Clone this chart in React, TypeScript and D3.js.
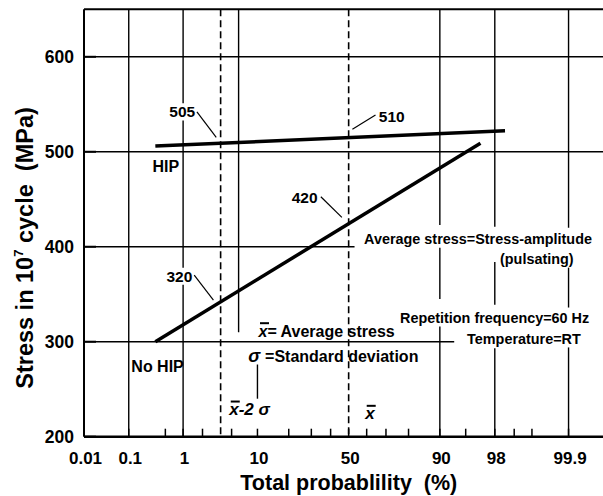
import React from 'react';
import * as d3 from 'd3';

// ---------- data ----------
const majorP = [0.01, 0.1, 1, 10, 50, 90, 98, 99.9];
const majorLabels = ['0.01', '0.1', '1', '10', '50', '90', '98', '99.9'];
const minorP = [0.5, 2, 5, 20, 30, 40, 60, 70, 80, 95, 99, 99.5];
const stressTicks = [200, 300, 400, 500, 600];

type Pt = { p: number; s: number };
const hipLine: Pt[] = [
  { p: 0.33, s: 506 },
  { p: 98.6, s: 522 },
];
const noHipLine: Pt[] = [
  { p: 0.33, s: 300 },
  { p: 96.8, s: 509 },
];
const lowerLimitP = 3.6; // x̄ - 2σ
const meanP = 50; // x̄

// vertical rules (p, stress spans) – broken around the annotations
const verticalRules: { p: number; spans: [number, number][] }[] = [
  { p: 0.1, spans: [[200, 650]] },
  { p: 1, spans: [[551, 650], [378, 533], [200, 360]] },
  { p: 6.1, spans: [[310, 650]] },
  { p: 10, spans: [[240, 276]] },
  { p: 90, spans: [[423, 650], [345, 399], [200, 316]] },
  { p: 98, spans: [[421, 650], [339, 384], [200, 293]] },
  { p: 99.9, spans: [[420, 650], [336, 378], [200, 294]] },
];
const horizontalRules = [
  { s: 300, to: 93.1 },
  { s: 400, to: 53.3 },
  { s: 500, to: 99.99 },
  { s: 600, to: 99.99 },
];
const pointers: { from: Pt; to: Pt }[] = [
  { from: { p: 1.65, s: 542.1 }, to: { p: 3.14, s: 515.2 } },
  { from: { p: 52.1, s: 523.6 }, to: { p: 64.7, s: 538.6 } },
  { from: { p: 34.8, s: 452.6 }, to: { p: 46.2, s: 430.9 } },
  { from: { p: 1.5, s: 370.2 }, to: { p: 2.87, s: 343.9 } },
];
const valueLabels = [
  { text: '505', p: 1.55, s: 537.1, anchor: 'end' },
  { text: '510', p: 66.4, s: 531.6, anchor: 'start' },
  { text: '420', p: 33.1, s: 445.7, anchor: 'end' },
  { text: '320', p: 1.4, s: 363.2, anchor: 'end' },
];
const conditionLabels = [
  { text: 'Average stress=Stress-amplitude', p: 58.6, s: 402.5 },
  { text: '(pulsating)', p: 98.33, s: 381.8 },
  { text: 'Repetition frequency=60 Hz', p: 76.5, s: 320 },
  { text: 'Temperature=RT', p: 95.2, s: 298.1 },
];

// ---------- scales ----------
function probit(p: number): number {
  const a = [-3.969683028665376e1, 2.209460984245205e2, -2.759285104469687e2, 1.38357751867269e2, -3.066479806614716e1, 2.506628277459239];
  const b = [-5.447609879822406e1, 1.615858368580409e2, -1.556989798598866e2, 6.680131188771972e1, -1.328068155288572e1];
  const c = [-7.784894002430293e-3, -3.223964580411365e-1, -2.400758277161838, -2.549671348529114, 4.374664141464968, 2.938163982698783];
  const d = [7.784695709041462e-3, 3.224671290700398e-1, 2.445134137142996, 3.754408661907416];
  const plow = 0.02425;
  if (p < plow) {
    const q = Math.sqrt(-2 * Math.log(p));
    return (((((c[0] * q + c[1]) * q + c[2]) * q + c[3]) * q + c[4]) * q + c[5]) / ((((d[0] * q + d[1]) * q + d[2]) * q + d[3]) * q + 1);
  }
  if (p <= 1 - plow) {
    const q = p - 0.5;
    const r = q * q;
    return ((((((a[0] * r + a[1]) * r + a[2]) * r + a[3]) * r + a[4]) * r + a[5]) * q) / (((((b[0] * r + b[1]) * r + b[2]) * r + b[3]) * r + b[4]) * r + 1);
  }
  const q = Math.sqrt(-2 * Math.log(1 - p));
  return -(((((c[0] * q + c[1]) * q + c[2]) * q + c[3]) * q + c[4]) * q + c[5]) / ((((d[0] * q + d[1]) * q + d[2]) * q + d[3]) * q + 1);
}

const W = 603;
const H = 496;
const M = { left: 84, right: 613.3, top: 9.3, bottom: 436.7 };
const zScale = d3.scaleLinear().domain([probit(0.0001), probit(0.9999)]).range([M.left, M.right]);
const x = (p: number) => zScale(probit(p / 100));
const y = d3.scaleLinear().domain([200, 650]).range([M.bottom, M.top]);
const line = d3
  .line<Pt>()
  .x((d) => x(d.p))
  .y((d) => y(d.s));

const FONT = "'Liberation Sans', Arial, Helvetica, sans-serif";

const Bar = ({ x0, yb, w = 9 }: { x0: number; yb: number; w?: number }) => (
  <line x1={x0 + 1.5} x2={x0 + 1.5 + w} y1={yb - 13.5} y2={yb - 13.5} stroke="#000" strokeWidth={2} />
);

export default function App() {
  const xLow = x(lowerLimitP);
  const xMean = x(meanP);
  const avgX = x(10.26), avgY = y(305.3);
  const sigX = x(7.9), sigY = y(278.9);
  const x2sX = x(4.67), x2sY = y(222.8);
  const xmX = x(59.2), xmY = y(218.3);
  return (
    <div style={{ position: 'absolute', left: 0, top: 0, width: W, height: H, background: '#fff' }}>
      <svg width={W} height={H} style={{ display: 'block', fontFamily: FONT }}>
        <rect width={W} height={H} fill="#fff" />
        {/* horizontal rules */}
        {horizontalRules.map((h) => (
          <line key={h.s} x1={M.left} x2={x(h.to)} y1={y(h.s)} y2={y(h.s)} stroke="#000" strokeWidth={1.4} />
        ))}
        {/* vertical rules */}
        {verticalRules.map((v) =>
          v.spans.map(([s0, s1], i) => (
            <line key={v.p + '-' + i} x1={x(v.p)} x2={x(v.p)} y1={y(s0)} y2={y(s1)} stroke="#000" strokeWidth={1.4} />
          ))
        )}
        {/* dashed lines */}
        <line x1={xLow} x2={xLow} y1={M.top} y2={M.bottom} stroke="#000" strokeWidth={1.6} strokeDasharray="7,4" />
        <line x1={xMean} x2={xMean} y1={M.top} y2={M.bottom} stroke="#000" strokeWidth={1.6} strokeDasharray="7,4" />
        {/* frame */}
        <line x1={M.left} x2={M.right} y1={M.top} y2={M.top} stroke="#000" strokeWidth={2} />
        <line x1={M.left} x2={M.right} y1={M.bottom} y2={M.bottom} stroke="#000" strokeWidth={2.5} />
        <line x1={M.left} x2={M.left} y1={M.top} y2={M.bottom} stroke="#000" strokeWidth={2} />
        {/* y ticks */}
        {stressTicks.map((s) => (
          <g key={s}>
            <line x1={M.left} x2={M.left + 12} y1={y(s)} y2={y(s)} stroke="#000" strokeWidth={2} />
            <text x={74} y={y(s) + 6.3} textAnchor="end" fontSize={17.5} fontWeight="bold">
              {s}
            </text>
          </g>
        ))}
        {/* x ticks */}
        {[...majorP.slice(1), ...minorP].map((p) => (
          <line key={'t' + p} x1={x(p)} x2={x(p)} y1={M.bottom} y2={M.bottom - 8} stroke="#000" strokeWidth={1.5} />
        ))}
        {majorP.map((p, i) => (
          <text key={'l' + p} x={x(p) + 1.5} y={464} textAnchor="middle" fontSize={17} fontWeight="bold">
            {majorLabels[i]}
          </text>
        ))}
        {/* data lines */}
        <path d={line(hipLine) || ''} fill="none" stroke="#000" strokeWidth={3.5} />
        <path d={line(noHipLine) || ''} fill="none" stroke="#000" strokeWidth={3.5} />
        {/* pointers */}
        {pointers.map((pt, i) => (
          <line key={'p' + i} x1={x(pt.from.p)} y1={y(pt.from.s)} x2={x(pt.to.p)} y2={y(pt.to.s)} stroke="#000" strokeWidth={1.2} />
        ))}
        {valueLabels.map((v) => (
          <text key={v.text} x={x(v.p)} y={y(v.s)} textAnchor={v.anchor as any} fontSize={15.5} fontWeight="bold">
            {v.text}
          </text>
        ))}
        <text x={x(0.293)} y={y(479.2)} fontSize={16} fontWeight="bold">HIP</text>
        <text x={x(0.113)} y={y(268.4)} fontSize={16} fontWeight="bold">No HIP</text>
        {/* legend texts */}
        <text x={avgX} y={avgY} fontSize={16} fontWeight="bold" style={{ whiteSpace: 'pre' }}>
          <tspan fontStyle="italic">x</tspan>
          <tspan>= Average stress</tspan>
        </text>
        <Bar x0={avgX} yb={avgY} />
        <text x={sigX} y={sigY} fontSize={18} fontStyle="italic" fontWeight="bold">σ</text>
        <text x={x(12.0)} y={sigY} fontSize={16} fontWeight="bold">=Standard deviation</text>
        <text x={x2sX} y={x2sY} fontSize={17} fontWeight="bold" fontStyle="italic" style={{ whiteSpace: 'pre' }}>
          x-2 σ
        </text>
        <Bar x0={x2sX} yb={x2sY} />
        <text x={xmX} y={xmY} fontSize={17} fontWeight="bold" fontStyle="italic">x</text>
        <Bar x0={xmX} yb={xmY} />
        {conditionLabels.map((c) => (
          <text key={c.text} x={x(c.p)} y={y(c.s)} fontSize={14.4} fontWeight="bold">
            {c.text}
          </text>
        ))}
        {/* axis titles */}
        <text x={348.8} y={490} textAnchor="middle" fontSize={21.5} fontWeight="bold" style={{ whiteSpace: 'pre' }}>
          Total probablility  (%)
        </text>
        <text
          transform={`translate(33,${(M.top + M.bottom) / 2 + 25}) rotate(-90)`}
          textAnchor="middle"
          fontSize={23.5}
          fontWeight="bold"
          style={{ whiteSpace: 'pre' }}
        >
          <tspan>Stress in 10</tspan>
          <tspan fontSize={13} dy={-10}>7</tspan>
          <tspan dy={10}>{' cycle  (MPa)'}</tspan>
        </text>
      </svg>
    </div>
  );
}
